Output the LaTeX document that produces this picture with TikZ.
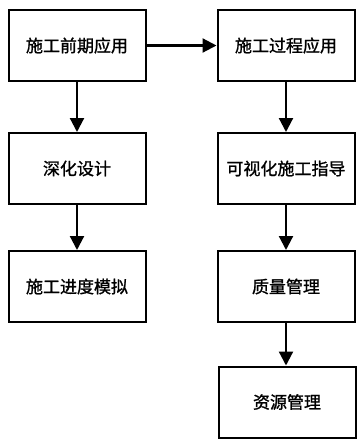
\documentclass[tikz,border=0pt]{standalone}
\usepackage{fontspec}
\setmainfont{Noto Sans CJK SC}[FakeBold=1.2]
\usetikzlibrary{arrows.meta}
\begin{document}
\begin{tikzpicture}[x=1pt,y=-1pt,
  box/.style={draw=black, line width=2pt, minimum width=137pt, minimum height=71pt, inner sep=0pt, font=\fontsize{17pt}{20pt}\selectfont},
  arr/.style={line width=2.2pt, -{Triangle[width=14pt,length=14pt]}}]
\useasboundingbox (0,0) rectangle (362,440);
\fill[white] (0,0) rectangle (362,440);
\node[box] (a) at (77,45.5) {施工前期应用};
\node[box] (b) at (77,168.5) {深化设计};
\node[box] (c) at (77,286.5) {施工进度模拟};
\node[box] (d) at (286,45.5) {施工过程应用};
\node[box] (e) at (286,168.5) {可视化施工指导};
\node[box] (f) at (286,286.5) {质量管理};
\node[box] (g) at (287,402) {资源管理};
\draw[arr] (a) -- (d);
\draw[arr] (a) -- (b);
\draw[arr] (b) -- (c);
\draw[arr] (d) -- (e);
\draw[arr] (e) -- (f);
\draw[arr] (f.south) -- (f.south |- g.north);
\end{tikzpicture}
\end{document}
